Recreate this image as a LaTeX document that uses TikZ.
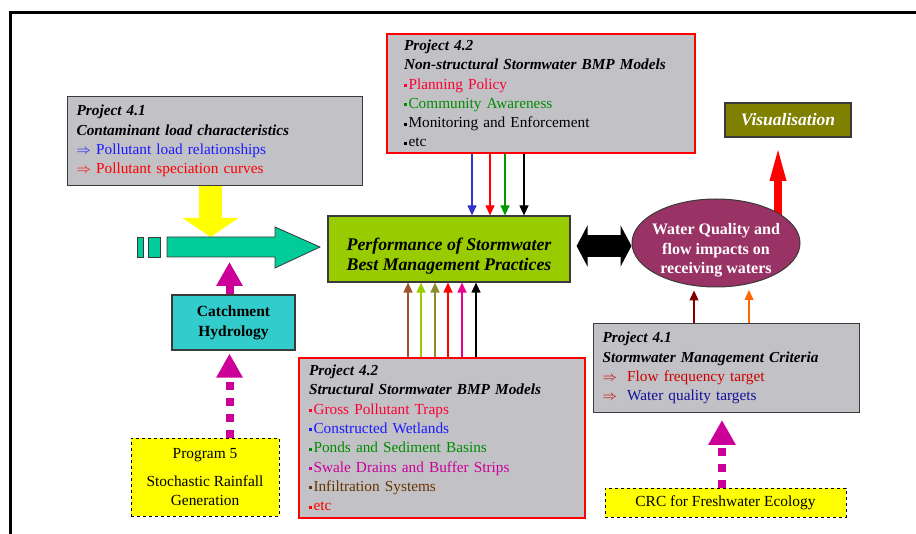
\documentclass[tikz,border=0pt]{standalone}
\usepackage{fontspec}
\setmainfont{Liberation Serif}
\usetikzlibrary{arrows.meta}
\usetikzlibrary{shapes.geometric}
\usetikzlibrary{backgrounds}

\definecolor{BoxGrey}{HTML}{C2C1C6}
\definecolor{BoxEdge}{HTML}{3A3A3A}
\definecolor{PerfGreen}{HTML}{99CC00}
\definecolor{WaterPlum}{HTML}{993366}
\definecolor{VisOlive}{HTML}{808000}
\definecolor{FlowTeal}{HTML}{00CC99}
\definecolor{HydroCyan}{HTML}{33CCCC}
\definecolor{NoteYellow}{HTML}{FFFF00}
\definecolor{LinkMagenta}{HTML}{CC0099}
\definecolor{TxtRed}{HTML}{FF0033}
\definecolor{TxtBlue}{HTML}{1A1AFF}
\definecolor{TxtGreen}{HTML}{008C00}
\definecolor{TxtPink}{HTML}{CC0099}
\definecolor{TxtBrown}{HTML}{663300}
\definecolor{TxtNavy}{HTML}{101099}
\definecolor{TxtDarkRed}{HTML}{CC0000}
\definecolor{ArrBlue}{HTML}{3333CC}
\definecolor{ArrGreen}{HTML}{009900}
\definecolor{ArrBrown}{HTML}{A0522D}
\definecolor{ArrOlive}{HTML}{8C8C2A}
\definecolor{ArrMaroon}{HTML}{800000}
\definecolor{ArrOrange}{HTML}{FF6600}

\newcommand{\bmpdot}{\rule[0.3ex]{3pt}{3pt}\hspace{1.5pt}}
\newcommand{\projtitle}[1]{\textbf{\textit{#1}}}

\tikzset{
  grey box/.style={
    rectangle, anchor=north west,
    draw=BoxEdge, line width=1.2pt, fill=BoxGrey,
    align=left, inner xsep=9pt, inner ysep=0pt,
    font=\fontsize{15.3}{19.3}\selectfont
  },
  red box/.style={
    grey box,
    draw=red, line width=2pt,
  },
  note box/.style={
    rectangle, draw=black, dashed, line width=0.8pt,
    fill=NoteYellow, align=center, inner sep=0pt,
    font=\fontsize{15.4}{19}\selectfont
  },
  thin link/.style={
    color=#1, line width=1.2pt,
    -{Triangle[length=10pt,width=9pt]}
  },
  magenta link/.style={
    LinkMagenta, line width=8pt,
    -{Triangle[length=24pt,width=25pt]}
  },
  dotted link/.style={
    magenta link,
    dash pattern=on 7.5pt off 8.5pt,
  },
}

\begin{document}
\begin{tikzpicture}[x=1pt, y=-1pt]
  \useasboundingbox (0,0) rectangle (916,534);
  \draw[line width=3pt] (10,534) -- (10,13) -- (916,13);

  % project boxes
  \node[grey box, minimum width=295, minimum height=89, text width=277] (cont) at (67,96)
    {\projtitle{Project 4.1}\\
     \projtitle{Contaminant load characteristics}\\
     \textcolor{TxtBlue}{$\Rightarrow$ Pollutant load relationships}\\
     \textcolor{red}{$\Rightarrow$ Pollutant speciation curves}};
  \node[red box, inner xsep=17pt, minimum width=308, minimum height=119, text width=274] (nstr) at (386,33)
    {\projtitle{Project 4.2}\\
     \projtitle{Non-structural Stormwater BMP Models}\\
     \textcolor{TxtRed}{\bmpdot Planning Policy}\\
     \textcolor{TxtGreen}{\bmpdot Community Awareness}\\
     \bmpdot Monitoring and Enforcement\\
     \bmpdot etc};
  \node[red box, inner xsep=10pt, minimum width=286, minimum height=160, text width=266] (strct) at (298,357)
    {\projtitle{Project 4.2}\\
     \projtitle{Structural Stormwater BMP Models}\\
     \textcolor{TxtRed}{\bmpdot Gross Pollutant Traps}\\
     \textcolor{TxtBlue}{\bmpdot Constructed Wetlands}\\
     \textcolor{TxtGreen}{\bmpdot Ponds and Sediment Basins}\\
     \textcolor{TxtPink}{\bmpdot Swale Drains and Buffer Strips}\\
     \textcolor{TxtBrown}{\bmpdot Infiltration Systems}\\
     \textcolor{red}{\bmpdot etc}};
  \node[grey box, minimum width=266, minimum height=89, text width=248] (crit) at (593,323)
    {\projtitle{Project 4.1}\\
     \projtitle{Stormwater Management Criteria}\\
     \textcolor{TxtDarkRed}{$\Rightarrow$\ \ Flow frequency target}\\
     \textcolor{TxtDarkRed}{$\Rightarrow$}\ \ \textcolor{TxtNavy}{Water quality targets}};

  % main nodes
  \node[rectangle, draw=BoxEdge, line width=1.2pt, fill=PerfGreen, minimum width=242, minimum height=66,
    align=center, font=\fontsize{17.8}{20}\selectfont\bfseries\itshape] (perf) at (449,249)
    {\rule{0pt}{26pt}Performance of Stormwater\\Best Management Practices};
  \node[ellipse, draw=BoxEdge, line width=1pt, fill=WaterPlum, text=white, minimum width=168, minimum height=88,
    inner xsep=-12pt, inner ysep=-8pt, align=center, font=\fontsize{16}{19.5}\selectfont\bfseries] (wq) at (716,243)
    {\rule{0pt}{26pt}Water Quality and\\flow impacts on\\receiving waters};
  \node[rectangle, draw=BoxEdge, line width=1.2pt, fill=VisOlive, text=white, minimum width=126, minimum height=34,
    font=\fontsize{17.5}{18}\selectfont\bfseries\itshape] (vis) at (788,120) {Visualisation};
  \node[rectangle, draw=BoxEdge, line width=1.2pt, fill=HydroCyan, minimum width=123, minimum height=55,
    align=center, font=\fontsize{15.5}{20}\selectfont\bfseries] (catch) at (233.5,322.5)
    {Catchment\\Hydrology};
  \node[note box, minimum width=148, minimum height=78] (prog) at (205,477)
    {Program 5\\[9pt]Stochastic Rainfall\\Generation};
  \node[note box, minimum width=241, minimum height=29] (crc) at (725.5,502.5)
    {CRC for Freshwater Ecology};

  \coordinate (flowtop) at (210.5,237);
  \coordinate (hydroin) at (229.5,262);
  \coordinate (visin) at (778,143);
  \coordinate (crcin) at (722,420);
  \coordinate (dbl) at (601,246);

  % block arrows
  \begin{pgfonlayer}{background}
    \draw[NoteYellow, line width=23pt, -{Triangle[length=19pt,width=55pt]}] (cont.south -| flowtop) -- (flowtop);
    \draw[magenta link] (catch.north -| hydroin) -- (hydroin);
    \draw[red, line width=8pt, -{Triangle[length=38pt,width=14pt]}] (wq.center -| visin) -- (visin);
  \end{pgfonlayer}
  \filldraw[fill=FlowTeal, draw=BoxEdge, line width=0.8pt]
    (167,237) -- (275,237) -- (275,227) -- (320,247) -- (275,268) -- (275,257) -- (167,257) -- cycle;
  \filldraw[fill=FlowTeal, draw=BoxEdge, line width=0.8pt] (148,237) rectangle (160,257);
  \filldraw[fill=FlowTeal, draw=BoxEdge, line width=0.8pt] (137,237) rectangle (143,257);
  \draw[line width=22pt, shorten <=6pt,
    {Triangle[length=11pt,width=41pt]}-{Triangle[length=11pt,width=41pt]}] (perf.east |- dbl) -- (wq.west |- dbl);

  \draw[dotted link] (prog.north -| hydroin) -- ([yshift=-3pt]catch.south -| hydroin);
  \draw[dotted link, -{Triangle[length=25pt,width=26pt]}] (crc.north -| crcin) -- (crcin);

  % thin links
  \foreach \x/\c in {472/ArrBlue, 490/red, 505/ArrGreen, 524/black}
    \draw[thin link=\c] (\x,0 |- nstr.south) -- (\x,0 |- perf.north);
  \foreach \x/\c in {408/ArrBrown, 421/PerfGreen, 435/ArrOlive, 448/red, 462/magenta, 476/black}
    \draw[thin link=\c] (\x,0 |- strct.north) -- (\x,0 |- perf.south);
  \draw[thin link=ArrMaroon, shorten >=3pt] (694,0 |- crit.north) -- (694,0 |- wq.south);
  \draw[thin link=ArrOrange] (749,0 |- crit.north) -- (749,290);
\end{tikzpicture}
\end{document}
